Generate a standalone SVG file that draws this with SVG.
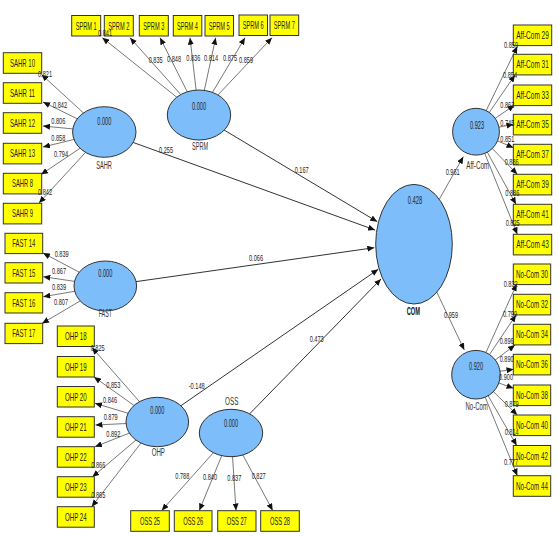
<svg xmlns="http://www.w3.org/2000/svg" width="559" height="536" viewBox="0 0 559 536">
<defs>
<marker id="ah" markerUnits="userSpaceOnUse" markerWidth="7" markerHeight="6" refX="7" refY="3" orient="auto">
<path d="M0,0 L7,3 L0,6 z" fill="#111"/>
</marker>
<style>
.box{fill:#ffff00;stroke:#333;stroke-width:1}
.lv{fill:#7dbdf9;stroke:#333;stroke-width:1}
.ind{stroke:#555;stroke-width:0.8;fill:none;marker-end:url(#ah)}
.pth{stroke:#333;stroke-width:1;fill:none;marker-end:url(#ah)}
text{font-family:"Liberation Sans",Arial,sans-serif;fill:#222;text-anchor:middle}
.bt{font-size:10.5px}
.num{font-size:9.5px}
.nm{font-size:10px;fill:#333}
.com{font-size:10px;font-weight:bold;fill:#111}
</style>
</defs>
<rect width="559" height="536" fill="#fff"/>
<g id="connectors">
<line class="ind" x1="199" y1="115" x2="102.3" y2="37.7"/>
<line class="ind" x1="199" y1="115" x2="130" y2="37.7"/>
<line class="ind" x1="199" y1="115" x2="160" y2="37.7"/>
<line class="ind" x1="199" y1="115" x2="190" y2="37.7"/>
<line class="ind" x1="199" y1="115" x2="215.7" y2="37.7"/>
<line class="ind" x1="199" y1="115" x2="245" y2="37.7"/>
<line class="ind" x1="199" y1="115" x2="272" y2="37.7"/>
<line class="ind" x1="104.3" y1="132" x2="41.5" y2="74.5"/>
<line class="ind" x1="104.3" y1="132" x2="43" y2="102"/>
<line class="ind" x1="104.3" y1="132" x2="43" y2="126"/>
<line class="ind" x1="104.3" y1="132" x2="43" y2="147"/>
<line class="ind" x1="104.3" y1="132" x2="41" y2="174.5"/>
<line class="ind" x1="104.3" y1="132" x2="39" y2="203"/>
<line class="ind" x1="105.3" y1="286" x2="43" y2="253"/>
<line class="ind" x1="105.3" y1="286" x2="43.3" y2="276.7"/>
<line class="ind" x1="105.3" y1="286" x2="43.3" y2="296.7"/>
<line class="ind" x1="105.3" y1="286" x2="42" y2="323.5"/>
<line class="ind" x1="157.3" y1="422" x2="92" y2="347.5"/>
<line class="ind" x1="157.3" y1="422" x2="94" y2="377"/>
<line class="ind" x1="157.3" y1="422" x2="95" y2="403.3"/>
<line class="ind" x1="157.3" y1="422" x2="95.5" y2="425"/>
<line class="ind" x1="157.3" y1="422" x2="95" y2="446.7"/>
<line class="ind" x1="157.3" y1="422" x2="92.3" y2="477"/>
<line class="ind" x1="157.3" y1="422" x2="91.7" y2="506.7"/>
<line class="ind" x1="231" y1="433" x2="161.7" y2="510.5"/>
<line class="ind" x1="231" y1="433" x2="199.3" y2="510.5"/>
<line class="ind" x1="231" y1="433" x2="236" y2="510.5"/>
<line class="ind" x1="231" y1="433" x2="272.7" y2="510.5"/>
<line class="ind" x1="476" y1="131.7" x2="517.3" y2="46.3"/>
<line class="ind" x1="476" y1="131.7" x2="515" y2="75"/>
<line class="ind" x1="476" y1="131.7" x2="514.5" y2="105"/>
<line class="ind" x1="476" y1="131.7" x2="513.5" y2="124.3"/>
<line class="ind" x1="476" y1="131.7" x2="513.5" y2="147.7"/>
<line class="ind" x1="476" y1="131.7" x2="517.3" y2="174.3"/>
<line class="ind" x1="476" y1="131.7" x2="516" y2="204.3"/>
<line class="ind" x1="476" y1="131.7" x2="517.3" y2="234.3"/>
<line class="ind" x1="476" y1="374.7" x2="516.7" y2="284"/>
<line class="ind" x1="476" y1="374.7" x2="516" y2="315"/>
<line class="ind" x1="476" y1="374.7" x2="515" y2="345"/>
<line class="ind" x1="476" y1="374.7" x2="513.5" y2="369.3"/>
<line class="ind" x1="476" y1="374.7" x2="513.5" y2="388.3"/>
<line class="ind" x1="476" y1="374.7" x2="517.3" y2="415"/>
<line class="ind" x1="476" y1="374.7" x2="516.7" y2="445.5"/>
<line class="ind" x1="476" y1="374.7" x2="517.3" y2="475.7"/>
<line class="pth" x1="199" y1="115" x2="377.3" y2="221.7"/>
<line class="pth" x1="104.3" y1="132" x2="375" y2="230"/>
<line class="pth" x1="105.3" y1="286" x2="374.3" y2="247.7"/>
<line class="pth" x1="157.3" y1="422" x2="378.3" y2="269.3"/>
<line class="pth" x1="231" y1="433" x2="381" y2="279"/>
<line class="ind" x1="414" y1="244.2" x2="463.3" y2="156.7"/>
<line class="ind" x1="414" y1="244.2" x2="464.3" y2="350"/>
</g>
<g id="SPRM">
<ellipse class="lv" cx="199" cy="115" rx="31.7" ry="25"/>
<text class="bt" x="199" y="109.7" textLength="14" lengthAdjust="spacingAndGlyphs">0.000</text>
<text class="nm" x="200" y="150.2" textLength="16" lengthAdjust="spacingAndGlyphs">SPRM</text>
<rect class="box" x="71.7" y="15.5" width="29" height="20.5"/><text class="bt" x="86.2" y="29.5" textLength="21" lengthAdjust="spacingAndGlyphs">SPRM 1</text>
<rect class="box" x="104.3" y="15.5" width="29" height="20.5"/><text class="bt" x="118.8" y="29.5" textLength="21" lengthAdjust="spacingAndGlyphs">SPRM 2</text>
<rect class="box" x="139.3" y="15.5" width="29" height="20.5"/><text class="bt" x="153.8" y="29.5" textLength="21" lengthAdjust="spacingAndGlyphs">SPRM 3</text>
<rect class="box" x="173.3" y="15.5" width="28.5" height="20.5"/><text class="bt" x="187.5" y="29.5" textLength="21" lengthAdjust="spacingAndGlyphs">SPRM 4</text>
<rect class="box" x="205" y="15.5" width="28.5" height="20.5"/><text class="bt" x="219.2" y="29.5" textLength="21" lengthAdjust="spacingAndGlyphs">SPRM 5</text>
<rect class="box" x="239" y="15" width="28.5" height="20.5"/><text class="bt" x="253.2" y="29" textLength="21" lengthAdjust="spacingAndGlyphs">SPRM 6</text>
<rect class="box" x="270" y="15" width="28.7" height="20.5"/><text class="bt" x="284.3" y="29" textLength="21" lengthAdjust="spacingAndGlyphs">SPRM 7</text>
</g>
<g id="SAHR">
<ellipse class="lv" cx="104.3" cy="132" rx="31.7" ry="25.3"/>
<text class="bt" x="104.3" y="125.4" textLength="14" lengthAdjust="spacingAndGlyphs">0.000</text>
<text class="nm" x="104" y="168.5" textLength="15.7" lengthAdjust="spacingAndGlyphs">SAHR</text>
<rect class="box" x="3.3" y="52.7" width="38.4" height="20.6"/><text class="bt" x="22.5" y="66.8" textLength="25" lengthAdjust="spacingAndGlyphs">SAHR 10</text>
<rect class="box" x="3.3" y="82.7" width="38.4" height="20.6"/><text class="bt" x="22.5" y="96.8" textLength="25" lengthAdjust="spacingAndGlyphs">SAHR 11</text>
<rect class="box" x="3.3" y="112.7" width="38.4" height="20.6"/><text class="bt" x="22.5" y="126.8" textLength="25" lengthAdjust="spacingAndGlyphs">SAHR 12</text>
<rect class="box" x="3.3" y="143.3" width="38.4" height="20.6"/><text class="bt" x="22.5" y="157.4" textLength="25" lengthAdjust="spacingAndGlyphs">SAHR 13</text>
<rect class="box" x="3.3" y="173.3" width="38.4" height="20.6"/><text class="bt" x="22.5" y="187.4" textLength="21" lengthAdjust="spacingAndGlyphs">SAHR 8</text>
<rect class="box" x="3.3" y="203.3" width="38.4" height="20.6"/><text class="bt" x="22.5" y="217.4" textLength="21" lengthAdjust="spacingAndGlyphs">SAHR 9</text>
</g>
<g id="FAST">
<ellipse class="lv" cx="105.3" cy="286" rx="31.3" ry="25"/>
<text class="bt" x="105.3" y="277" textLength="14" lengthAdjust="spacingAndGlyphs">0.000</text>
<text class="nm" x="105.3" y="317.2" textLength="13.3" lengthAdjust="spacingAndGlyphs">FAST</text>
<rect class="box" x="5" y="233.3" width="37.7" height="20.3"/><text class="bt" x="23.8" y="247.3" textLength="23" lengthAdjust="spacingAndGlyphs">FAST 14</text>
<rect class="box" x="5" y="262.7" width="37.7" height="20.3"/><text class="bt" x="23.8" y="276.7" textLength="23" lengthAdjust="spacingAndGlyphs">FAST 15</text>
<rect class="box" x="5" y="292.7" width="37.7" height="20.3"/><text class="bt" x="23.8" y="306.7" textLength="23" lengthAdjust="spacingAndGlyphs">FAST 16</text>
<rect class="box" x="5" y="323.3" width="37.7" height="20.3"/><text class="bt" x="23.8" y="337.3" textLength="23" lengthAdjust="spacingAndGlyphs">FAST 17</text>
</g>
<g id="OHP">
<ellipse class="lv" cx="157.3" cy="422" rx="31.3" ry="24.7"/>
<text class="bt" x="157.3" y="414.4" textLength="14" lengthAdjust="spacingAndGlyphs">0.000</text>
<text class="nm" x="158.3" y="456.2" textLength="13.3" lengthAdjust="spacingAndGlyphs">OHP</text>
<rect class="box" x="57.3" y="326" width="37" height="20.5"/><text class="bt" x="75.8" y="340" textLength="21.7" lengthAdjust="spacingAndGlyphs">OHP 18</text>
<rect class="box" x="57.3" y="356.5" width="37" height="20.5"/><text class="bt" x="75.8" y="370.5" textLength="21.7" lengthAdjust="spacingAndGlyphs">OHP 19</text>
<rect class="box" x="57.3" y="386.5" width="37" height="20.5"/><text class="bt" x="75.8" y="400.5" textLength="21.7" lengthAdjust="spacingAndGlyphs">OHP 20</text>
<rect class="box" x="57.3" y="416.7" width="37" height="20.5"/><text class="bt" x="75.8" y="430.7" textLength="21.7" lengthAdjust="spacingAndGlyphs">OHP 21</text>
<rect class="box" x="57.3" y="446.7" width="37" height="20.5"/><text class="bt" x="75.8" y="460.7" textLength="21.7" lengthAdjust="spacingAndGlyphs">OHP 22</text>
<rect class="box" x="57.3" y="476.7" width="37" height="20.5"/><text class="bt" x="75.8" y="490.7" textLength="21.7" lengthAdjust="spacingAndGlyphs">OHP 23</text>
<rect class="box" x="57.3" y="506.7" width="37" height="20.5"/><text class="bt" x="75.8" y="520.7" textLength="21.7" lengthAdjust="spacingAndGlyphs">OHP 24</text>
</g>
<g id="OSS">
<ellipse class="lv" cx="231" cy="433" rx="31.7" ry="23.7"/>
<text class="bt" x="231" y="427" textLength="14" lengthAdjust="spacingAndGlyphs">0.000</text>
<text class="nm" x="231.7" y="404.5" textLength="13.3" lengthAdjust="spacingAndGlyphs">OSS</text>
<rect class="box" x="130.7" y="510.7" width="38.6" height="20.6"/><text class="bt" x="150" y="524.8" textLength="20" lengthAdjust="spacingAndGlyphs">OSS 25</text>
<rect class="box" x="174.3" y="510.7" width="37.7" height="20.6"/><text class="bt" x="193.2" y="524.8" textLength="20" lengthAdjust="spacingAndGlyphs">OSS 26</text>
<rect class="box" x="217.7" y="510.7" width="38.3" height="20.6"/><text class="bt" x="236.8" y="524.8" textLength="20" lengthAdjust="spacingAndGlyphs">OSS 27</text>
<rect class="box" x="260.7" y="510.7" width="38.6" height="20.6"/><text class="bt" x="280" y="524.8" textLength="20" lengthAdjust="spacingAndGlyphs">OSS 28</text>
</g>
<g id="COM">
<ellipse class="lv" cx="414" cy="244.2" rx="38.3" ry="59.8"/>
<text class="bt" x="415" y="204.4" textLength="14.3" lengthAdjust="spacingAndGlyphs">0.428</text>
<text class="com" x="413.3" y="314.5" textLength="13.3" lengthAdjust="spacingAndGlyphs">COM</text>
</g>
<g id="Aff-Com">
<circle class="lv" cx="476" cy="131.7" r="23.4"/>
<text class="bt" x="477" y="128.7" textLength="14" lengthAdjust="spacingAndGlyphs">0.923</text>
<text class="nm" x="477.7" y="169.2" textLength="22.7" lengthAdjust="spacingAndGlyphs">Aff-Com</text>
<rect class="box" x="513.3" y="25" width="38.4" height="20.6"/><text class="bt" x="532.5" y="39.1" textLength="32.7" lengthAdjust="spacingAndGlyphs">Aff-Com 29</text>
<rect class="box" x="513.3" y="54.3" width="38.4" height="20.6"/><text class="bt" x="532.5" y="68.4" textLength="32.7" lengthAdjust="spacingAndGlyphs">Aff-Com 31</text>
<rect class="box" x="513.3" y="85" width="38.4" height="20.6"/><text class="bt" x="532.5" y="99.1" textLength="32.7" lengthAdjust="spacingAndGlyphs">Aff-Com 33</text>
<rect class="box" x="513.3" y="114.3" width="38.4" height="20.6"/><text class="bt" x="532.5" y="128.4" textLength="32.7" lengthAdjust="spacingAndGlyphs">Aff-Com 35</text>
<rect class="box" x="513.3" y="144.3" width="38.4" height="20.6"/><text class="bt" x="532.5" y="158.4" textLength="32.7" lengthAdjust="spacingAndGlyphs">Aff-Com 37</text>
<rect class="box" x="513.3" y="174.3" width="38.4" height="20.6"/><text class="bt" x="532.5" y="188.4" textLength="32.7" lengthAdjust="spacingAndGlyphs">Aff-Com 39</text>
<rect class="box" x="513.3" y="204.3" width="38.4" height="20.6"/><text class="bt" x="532.5" y="218.4" textLength="32.7" lengthAdjust="spacingAndGlyphs">Aff-Com 41</text>
<rect class="box" x="513.3" y="234.3" width="38.4" height="20.6"/><text class="bt" x="532.5" y="248.4" textLength="32.7" lengthAdjust="spacingAndGlyphs">Aff-Com 43</text>
</g>
<g id="No-Com">
<circle class="lv" cx="476" cy="374.7" r="24.3"/>
<text class="bt" x="476" y="369.7" textLength="14" lengthAdjust="spacingAndGlyphs">0.920</text>
<text class="nm" x="476.7" y="410.2" textLength="22.3" lengthAdjust="spacingAndGlyphs">No-Com</text>
<rect class="box" x="513.3" y="264" width="37.4" height="20.6"/><text class="bt" x="532" y="278.1" textLength="32" lengthAdjust="spacingAndGlyphs">No-Com 30</text>
<rect class="box" x="513.3" y="294.3" width="37.4" height="20.6"/><text class="bt" x="532" y="308.4" textLength="32" lengthAdjust="spacingAndGlyphs">No-Com 32</text>
<rect class="box" x="513.3" y="324.3" width="37.4" height="20.6"/><text class="bt" x="532" y="338.4" textLength="32" lengthAdjust="spacingAndGlyphs">No-Com 34</text>
<rect class="box" x="513.3" y="354.3" width="37.4" height="20.6"/><text class="bt" x="532" y="368.4" textLength="32" lengthAdjust="spacingAndGlyphs">No-Com 36</text>
<rect class="box" x="513.3" y="385" width="37.4" height="20.6"/><text class="bt" x="532" y="399.1" textLength="32" lengthAdjust="spacingAndGlyphs">No-Com 38</text>
<rect class="box" x="513.3" y="415" width="37.4" height="20.6"/><text class="bt" x="532" y="429.1" textLength="32" lengthAdjust="spacingAndGlyphs">No-Com 40</text>
<rect class="box" x="513.3" y="445.5" width="37.4" height="20.6"/><text class="bt" x="532" y="459.6" textLength="32" lengthAdjust="spacingAndGlyphs">No-Com 42</text>
<rect class="box" x="513.3" y="475.7" width="37.4" height="20.6"/><text class="bt" x="532" y="489.8" textLength="32" lengthAdjust="spacingAndGlyphs">No-Com 44</text>
</g>
<g id="connector-labels">
<text class="num" x="105" y="36.4" textLength="14" lengthAdjust="spacingAndGlyphs">0.841</text>
<text class="num" x="155.7" y="63.4" textLength="14" lengthAdjust="spacingAndGlyphs">0.835</text>
<text class="num" x="174" y="61.7" textLength="14" lengthAdjust="spacingAndGlyphs">0.848</text>
<text class="num" x="193.3" y="60.7" textLength="14" lengthAdjust="spacingAndGlyphs">0.836</text>
<text class="num" x="211" y="60.7" textLength="14" lengthAdjust="spacingAndGlyphs">0.814</text>
<text class="num" x="230" y="60.7" textLength="14" lengthAdjust="spacingAndGlyphs">0.875</text>
<text class="num" x="246" y="62.7" textLength="14" lengthAdjust="spacingAndGlyphs">0.859</text>
<text class="num" x="45" y="76.7" textLength="14" lengthAdjust="spacingAndGlyphs">0.821</text>
<text class="num" x="60" y="108.4" textLength="14" lengthAdjust="spacingAndGlyphs">0.842</text>
<text class="num" x="58.3" y="124.4" textLength="14" lengthAdjust="spacingAndGlyphs">0.806</text>
<text class="num" x="58.3" y="140.7" textLength="14" lengthAdjust="spacingAndGlyphs">0.858</text>
<text class="num" x="61" y="156.7" textLength="14" lengthAdjust="spacingAndGlyphs">0.794</text>
<text class="num" x="45" y="195.1" textLength="14" lengthAdjust="spacingAndGlyphs">0.842</text>
<text class="num" x="61.7" y="257.4" textLength="14" lengthAdjust="spacingAndGlyphs">0.839</text>
<text class="num" x="59" y="274.1" textLength="14" lengthAdjust="spacingAndGlyphs">0.867</text>
<text class="num" x="59" y="290.1" textLength="14" lengthAdjust="spacingAndGlyphs">0.839</text>
<text class="num" x="61" y="305.1" textLength="14" lengthAdjust="spacingAndGlyphs">0.807</text>
<text class="num" x="97.7" y="350.7" textLength="14" lengthAdjust="spacingAndGlyphs">0.825</text>
<text class="num" x="113.3" y="387.7" textLength="14" lengthAdjust="spacingAndGlyphs">0.853</text>
<text class="num" x="110" y="403.4" textLength="14" lengthAdjust="spacingAndGlyphs">0.846</text>
<text class="num" x="110.7" y="420.1" textLength="14" lengthAdjust="spacingAndGlyphs">0.879</text>
<text class="num" x="113.3" y="436.7" textLength="14" lengthAdjust="spacingAndGlyphs">0.892</text>
<text class="num" x="98.3" y="468.4" textLength="14" lengthAdjust="spacingAndGlyphs">0.866</text>
<text class="num" x="98.3" y="498.4" textLength="14" lengthAdjust="spacingAndGlyphs">0.865</text>
<text class="num" x="182.3" y="479.4" textLength="14" lengthAdjust="spacingAndGlyphs">0.788</text>
<text class="num" x="210" y="480.1" textLength="14" lengthAdjust="spacingAndGlyphs">0.840</text>
<text class="num" x="234.3" y="480.7" textLength="14" lengthAdjust="spacingAndGlyphs">0.837</text>
<text class="num" x="258.7" y="479.4" textLength="14" lengthAdjust="spacingAndGlyphs">0.827</text>
<text class="num" x="166" y="152.7" textLength="14" lengthAdjust="spacingAndGlyphs">0.255</text>
<text class="num" x="301.7" y="173.4" textLength="14" lengthAdjust="spacingAndGlyphs">0.167</text>
<text class="num" x="256" y="261.4" textLength="14" lengthAdjust="spacingAndGlyphs">0.066</text>
<text class="num" x="196.7" y="389.4" textLength="16" lengthAdjust="spacingAndGlyphs">-0.148</text>
<text class="num" x="316.7" y="341.7" textLength="14" lengthAdjust="spacingAndGlyphs">0.473</text>
<text class="num" x="452.7" y="175.1" textLength="14" lengthAdjust="spacingAndGlyphs">0.961</text>
<text class="num" x="451" y="317.7" textLength="14" lengthAdjust="spacingAndGlyphs">0.959</text>
<text class="num" x="511" y="47.7" textLength="14" lengthAdjust="spacingAndGlyphs">0.859</text>
<text class="num" x="510" y="78.4" textLength="14" lengthAdjust="spacingAndGlyphs">0.854</text>
<text class="num" x="507.3" y="108.4" textLength="14" lengthAdjust="spacingAndGlyphs">0.863</text>
<text class="num" x="507.3" y="125.7" textLength="14" lengthAdjust="spacingAndGlyphs">0.745</text>
<text class="num" x="507.3" y="141.7" textLength="14" lengthAdjust="spacingAndGlyphs">0.851</text>
<text class="num" x="511.7" y="165.1" textLength="14" lengthAdjust="spacingAndGlyphs">0.886</text>
<text class="num" x="512.3" y="195.7" textLength="14" lengthAdjust="spacingAndGlyphs">0.886</text>
<text class="num" x="512.7" y="225.7" textLength="14" lengthAdjust="spacingAndGlyphs">0.825</text>
<text class="num" x="510.7" y="286.7" textLength="14" lengthAdjust="spacingAndGlyphs">0.832</text>
<text class="num" x="510" y="317.4" textLength="14" lengthAdjust="spacingAndGlyphs">0.799</text>
<text class="num" x="506.7" y="344.4" textLength="14" lengthAdjust="spacingAndGlyphs">0.896</text>
<text class="num" x="506.7" y="361.7" textLength="14" lengthAdjust="spacingAndGlyphs">0.890</text>
<text class="num" x="506" y="380.1" textLength="14" lengthAdjust="spacingAndGlyphs">0.900</text>
<text class="num" x="511.7" y="406.7" textLength="14" lengthAdjust="spacingAndGlyphs">0.879</text>
<text class="num" x="511.7" y="435.1" textLength="14" lengthAdjust="spacingAndGlyphs">0.814</text>
<text class="num" x="511" y="465.1" textLength="14" lengthAdjust="spacingAndGlyphs">0.777</text>
</g>
</svg>
